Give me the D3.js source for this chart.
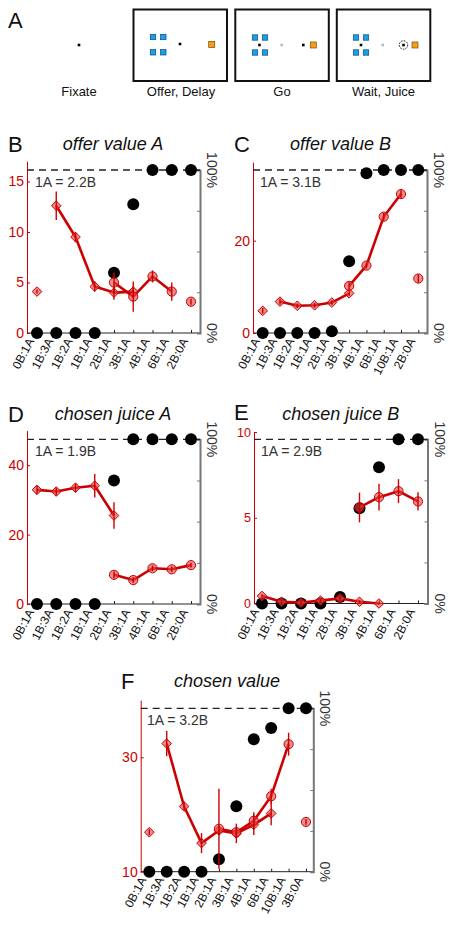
<!DOCTYPE html>
<html><head><meta charset="utf-8">
<script src="https://cdn.jsdelivr.net/npm/d3@7"></script>
<style>html,body{margin:0;padding:0;background:#fff;} svg{display:block;font-family:"Liberation Sans",Arial,sans-serif;}</style>
</head><body>
<svg id="fig" width="450" height="925"></svg>
<script>
// ---------------- DATA ----------------
const catsB = ["0B:1A","1B:3A","1B:2A","1B:1A","2B:1A","3B:1A","4B:1A","6B:1A","2B:0A"];
const catsC = ["0B:1A","1B:3A","1B:2A","1B:1A","2B:1A","3B:1A","4B:1A","6B:1A","10B:1A","2B:0A"];
const catsD = ["0B:1A","1B:3A","1B:2A","1B:1A","2B:1A","3B:1A","4B:1A","6B:1A","2B:0A"];
const catsE = ["0B:1A","1B:3A","1B:2A","1B:1A","2B:1A","3B:1A","4B:1A","6B:1A","2B:0A"];
const catsF = ["0B:1A","1B:3A","1B:2A","1B:1A","2B:1A","3B:1A","4B:1A","6B:1A","10B:1A","3B:0A"];

// diamonds = trials where A chosen, circles = trials where B chosen, pct = % choices of B
const diamB = [4.1,12.6,9.5,4.6,4.0,4.1,null,null,null];
const diamErrB = [0.2,1.4,0.5,0.5,0.7,0.5,0,0,0];
const circB = [null,null,null,null,5.0,3.6,5.6,4.1,3.1];
const circErrB = [0,0,0,0,1.0,1.5,0.6,0.9,0.3];
const pctB = [0,0,0,0,37,79,100,100,100];

const diamC = [4.8,6.8,5.9,6.0,6.6,8.6,null,null,null,null];
const diamErrC = [0.6,0.6,0.5,0.5,0.5,0.6,0,0,0,0];
const circC = [null,null,null,null,null,10.2,14.6,25.2,30.1,11.8];
const circErrC = [0,0,0,0,0,0.8,0.6,0.8,0.8,0.9];
const pctC = [0,0,0,0,1,44,98,100,100,100];

const diamD = [32.9,32.4,33.5,34.1,25.5,null,null,null,null];
const diamErrD = [1.2,1.2,1.2,3.4,3.8,0,0,0,0];
const circD = [null,null,null,null,8.4,6.9,10.3,10.0,11.2];
const circErrD = [0,0,0,0,1.0,0.8,0.8,0.8,0.7];
const pctD = [0,0,0,0,75,100,100,100,100];

const diamE = [0.44,0.1,0.05,0.17,0.3,0.1,0.0,null,null];
const diamErrE = [0.1,0.1,0.1,0.1,0.1,0.1,0.05,0,0];
const circE = [null,null,null,null,null,5.6,6.2,6.55,5.95];
const circErrE = [0,0,0,0,0,0.87,0.78,0.7,0.53];
const pctE = [0,0,0,0,4,58,83,100,100];

const diamF = [16.9,32.4,21.4,15.0,17.2,16.7,18.2,20.2,null,null];
const diamErrF = [0.5,2.2,0.7,1.75,0.8,1.7,1.8,2.1,0,0];
const circF = [null,null,null,null,17.5,16.9,18.9,23.2,32.3,18.7];
const circErrF = [0,0,0,0,7.0,1.0,1.5,1.3,2.0,0.5];
const pctF = [0,0,0,0,7.6,40,81,88,100,100];

const ticksB = [0,5,10,15], ticksC = [0,20], ticksD = [0,20,40], ticksE = [0,5,10], ticksF = [10,30];
const pctTicks = [0,25,50,75,100];

// ---------------- DRAW ----------------
const svg = d3.select("#fig");
const RED = "#cc0000";
const FILL = "rgba(228,70,70,0.62)";

function panel(o){
  const g = svg.append("g");
  const x = d3.scalePoint().domain(o.cats).range(o.xr);
  const y = d3.scaleLinear().domain(o.ydom).range([o.y0, o.ytop]);
  const yp = d3.scaleLinear().domain([0,100]).range([o.y0, o.y100]);

  // panel letter and title
  g.append("text").attr("x", o.lx).attr("y", o.ly).attr("font-size", 22).attr("fill","#111").text(o.letter);
  g.append("text").attr("x", o.tcx).attr("y", o.ty).attr("font-size", 18).attr("font-style","italic")
    .attr("text-anchor","middle").attr("fill","#111").text(o.title);

  // x axis
  const xa = g.append("g").attr("transform", `translate(0,${o.y0})`)
    .call(d3.axisBottom(x).tickSize(-3).tickPadding(0));
  xa.select(".domain").remove();
  xa.selectAll(".tick line").attr("stroke","#222");
  xa.selectAll(".tick text").attr("font-size",12).attr("fill","#111")
    .attr("text-anchor","end").attr("dy",0)
    .attr("transform","translate(-3,8) rotate(-62)");
  g.append("line").attr("x1",o.axL).attr("x2",o.axR).attr("y1",o.y0).attr("y2",o.y0).attr("stroke","#222").attr("stroke-width",1);

  // left axis (red)
  const la = g.append("g").attr("transform", `translate(${o.axL},0)`)
    .call(d3.axisLeft(y).tickValues(o.ticks).tickSize(-3).tickPadding(3).tickSizeOuter(0));
  la.select(".domain").attr("stroke",RED);
  la.selectAll(".tick line").attr("stroke",RED);
  la.selectAll(".tick text").attr("font-size",o.tfs).attr("fill",RED);

  // right axis (gray, percent)
  const ra = g.append("g").attr("transform", `translate(${o.axR},0)`)
    .call(d3.axisRight(yp).tickValues(pctTicks).tickSize(-3).tickFormat(""));
  ra.select(".domain").attr("stroke","#777").attr("stroke-width",2);
  ra.selectAll(".tick line").attr("stroke","#777");
  [[100,"100%"],[0,"0%"]].forEach(([v,t])=>{
    g.append("text").attr("transform",`translate(${o.axR+7},${yp(v)}) rotate(90)`)
      .attr("text-anchor","middle").attr("font-size",14).attr("fill","#333").text(t);
  });

  // 100% dashed reference line
  g.append("line").attr("x1",o.axL).attr("x2",o.axR).attr("y1",yp(100)).attr("y2",yp(100))
    .attr("stroke","#222").attr("stroke-width",1.3).attr("stroke-dasharray","7,5");

  // ratio text
  g.append("text").attr("x",o.rx).attr("y",o.ry).attr("font-size",14).attr("fill","#333").text(o.ratio);

  // choice pattern (black)
  g.selectAll("circle.pct").data(o.pct).enter().append("circle")
    .attr("cx",(d,i)=>x(o.cats[i])).attr("cy",d=>yp(d)).attr("r",6).attr("fill","#000");

  // red lines
  const n = o.cats.length;
  const inRange = i => o.linkAll ? true : (i>0 && i<n-1);
  const lineGen = d3.line().defined(d=>d.v!=null).x(d=>x(d.c)).y(d=>y(d.v));
  [o.diam,o.circ].forEach(arr=>{
    const pts = arr.map((v,i)=>({c:o.cats[i], v: inRange(i)? v : null}));
    g.append("path").datum(pts).attr("d",lineGen).attr("fill","none")
      .attr("stroke",RED).attr("stroke-width",2.6).attr("stroke-linejoin","round");
  });

  // markers and error bars
  const drawSet = (vals, errs, shape) => {
    vals.forEach((v,i)=>{
      if(v==null) return;
      const cx = x(o.cats[i]), cy = y(v);
      if (shape==="d"){
        const s=4.8;
        g.append("path").attr("d",`M${cx},${cy-s}L${cx+s},${cy}L${cx},${cy+s}L${cx-s},${cy}Z`)
          .attr("fill",FILL).attr("stroke",RED).attr("stroke-width",1);
      } else {
        g.append("circle").attr("cx",cx).attr("cy",cy).attr("r",4.6)
          .attr("fill",FILL).attr("stroke",RED).attr("stroke-width",1);
      }
      if (errs[i]>0){
        g.append("line").attr("x1",cx).attr("x2",cx).attr("y1",y(v-errs[i])).attr("y2",y(v+errs[i]))
          .attr("stroke",RED).attr("stroke-width",1.4);
      }
    });
  };
  drawSet(o.diam,o.diamErr,"d");
  drawSet(o.circ,o.circErr,"c");
}

panel({letter:"B",title:"offer value A",lx:8,ly:151.5,ty:150,tcx:113,cats:catsB,xr:[37,191],axL:27,axR:200,
  ydom:[0,17],y0:333,ytop:161.3,y100:170,ticks:ticksB,tfs:14,ratio:"1A = 2.2B",rx:35,ry:187,
  diam:diamB,diamErr:diamErrB,circ:circB,circErr:circErrB,pct:pctB,linkAll:false});
panel({letter:"C",title:"offer value B",lx:234,ly:151.5,ty:150,tcx:340.5,cats:catsC,xr:[262.7,418.3],axL:253,axR:427,
  ydom:[0,37],y0:333,ytop:162.2,y100:170,ticks:ticksC,tfs:14,ratio:"1A = 3.1B",rx:260,ry:187,
  diam:diamC,diamErr:diamErrC,circ:circC,circErr:circErrC,pct:pctC,linkAll:false});
panel({letter:"D",title:"chosen juice A",lx:8,ly:421.5,ty:420,tcx:113,cats:catsD,xr:[37,191],axL:27,axR:200,
  ydom:[0,50],y0:604,ytop:430.5,y100:439.3,ticks:ticksD,tfs:14,ratio:"1A = 1.9B",rx:35,ry:456,
  diam:diamD,diamErr:diamErrD,circ:circD,circErr:circErrD,pct:pctD,linkAll:true});
panel({letter:"E",title:"chosen juice B",lx:234,ly:420,ty:420,tcx:340.8,cats:catsE,xr:[262,418],axL:254,axR:427.5,
  ydom:[0,10],y0:603.5,ytop:432,y100:439.3,ticks:ticksE,tfs:12.5,ratio:"1A = 2.9B",rx:261,ry:456,
  diam:diamE,diamErr:diamErrE,circ:circE,circErr:circErrE,pct:pctE,linkAll:true});
panel({letter:"F",title:"chosen value",lx:121,ly:689,ty:687,tcx:227,cats:catsF,xr:[149.3,306],axL:140.7,axR:313.3,
  ydom:[10,40],y0:871.7,ytop:700.1,y100:708.3,ticks:ticksF,tfs:14,ratio:"1A = 3.2B",rx:147,ry:725,
  diam:diamF,diamErr:diamErrF,circ:circF,circErr:circErrF,pct:pctF,linkAll:false});

// ---------------- PANEL A (task schematic) ----------------
const A = svg.append("g");
A.append("text").attr("x",8).attr("y",28).attr("font-size",22).attr("fill","#111").text("A");
const frames = [
  {label:"Fixate", x:null, cx:79},
  {label:"Offer, Delay", x:133.5, cx:181},
  {label:"Go", x:235.3, cx:282},
  {label:"Wait, Juice", x:336.8, cx:383.5}
];
frames.forEach(f=>{
  A.append("text").attr("x",f.cx).attr("y",96).attr("text-anchor","middle").attr("font-size",13).attr("fill","#111").text(f.label);
  if (f.x!=null) A.append("rect").attr("x",f.x).attr("y",9.5).attr("width",93.5).attr("height",71.5)
    .attr("fill","none").attr("stroke","#111").attr("stroke-width",2);
});
const blueSq = (cx,cy)=>A.append("rect").attr("x",cx-2.7).attr("y",cy-2.7).attr("width",5.4).attr("height",5.4)
  .attr("fill","#1aa0e6").attr("stroke","#0a4a80").attr("stroke-width",0.7);
const orangeSq = (cx,cy)=>A.append("rect").attr("x",cx-3).attr("y",cy-3).attr("width",6).attr("height",6)
  .attr("fill","#f2a01c").attr("stroke","#7a4a00").attr("stroke-width",0.7);
const dot = (cx,cy,c)=>A.append("rect").attr("x",cx-1.3).attr("y",cy-1.3).attr("width",2.6).attr("height",2.6).attr("fill",c);
dot(79,45,"#000");
[[153,37],[163.3,37],[153,52.3],[163.3,52.3]].forEach(p=>blueSq(p[0],p[1]));
dot(180,44,"#000"); orangeSq(211.7,44.5);
[[255,37.5],[265,37.5],[255,52.5],[265,52.5]].forEach(p=>blueSq(p[0],p[1]));
dot(259.5,45,"#000"); dot(281.7,45,"#bbb"); dot(303.3,45,"#000"); orangeSq(313.3,45);
[[356,37.5],[366,37.5],[356,52.5],[366,52.5]].forEach(p=>blueSq(p[0],p[1]));
dot(361,45,"#000"); dot(382.7,45,"#bbb");
A.append("circle").attr("cx",403.5).attr("cy",45).attr("r",4.2).attr("fill","none").attr("stroke","#000").attr("stroke-width",1).attr("stroke-dasharray","1.5,1.3");
dot(403.5,45,"#000"); orangeSq(415,45);
</script>
</body></html>
